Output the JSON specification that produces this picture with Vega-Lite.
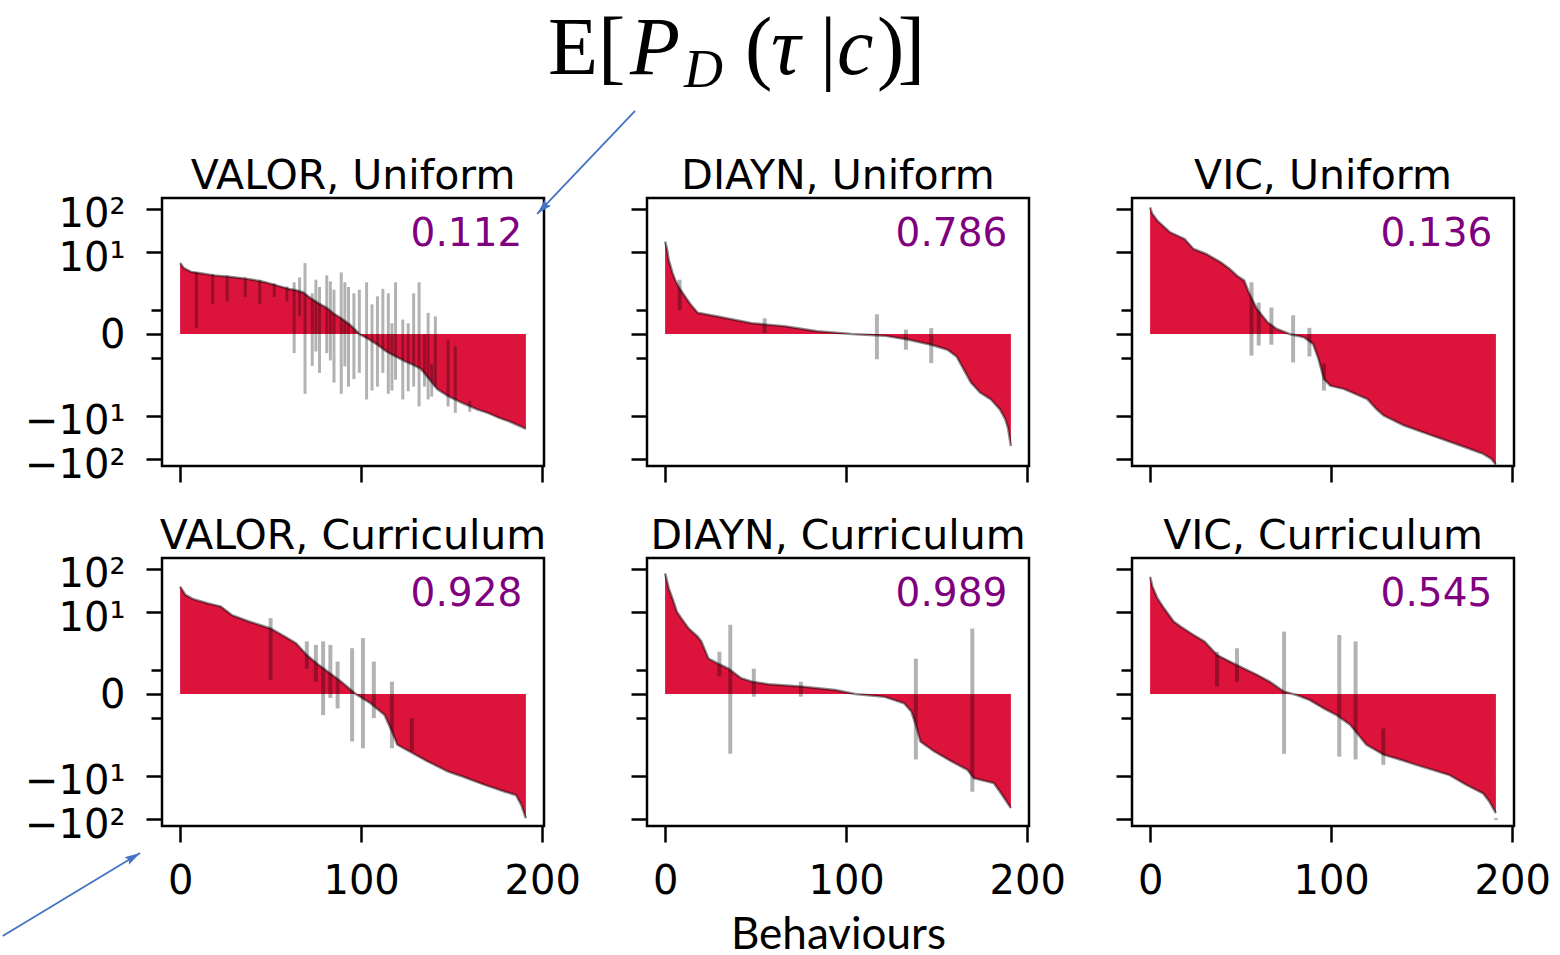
{
"$schema": "https://vega.github.io/schema/vega-lite/v6.json",
"background": "white",
"padding": {"left": 0, "top": 6, "right": 0, "bottom": 0},
"columns": 3,
"spacing": {"row": 92, "column": 103},
"bounds": "flush",
"datasets": {
"curve": [
{"p":"VU","i":0,"v":5.5},{"p":"VU","i":2,"v":4.2},{"p":"VU","i":6,"v":3.4},{"p":"VU","i":12,"v":3.1},{"p":"VU","i":19,"v":2.8},{"p":"VU","i":27,"v":2.6},{"p":"VU","i":34,"v":2.4},{"p":"VU","i":40,"v":2.2},{"p":"VU","i":47,"v":1.9},{"p":"VU","i":54,"v":1.55},{"p":"VU","i":60,"v":1.3},{"p":"VU","i":64,"v":1.2},{"p":"VU","i":68,"v":1.05},{"p":"VU","i":72,"v":0.75},{"p":"VU","i":76,"v":0.55},{"p":"VU","i":81,"v":0.39},{"p":"VU","i":85,"v":0.25},{"p":"VU","i":89,"v":0.17},{"p":"VU","i":94,"v":0.08},{"p":"VU","i":99,"v":0},{"p":"VU","i":104,"v":-0.04},{"p":"VU","i":109,"v":-0.1},{"p":"VU","i":114,"v":-0.2},{"p":"VU","i":119,"v":-0.3},{"p":"VU","i":124,"v":-0.42},{"p":"VU","i":129,"v":-0.55},{"p":"VU","i":133,"v":-0.7},{"p":"VU","i":137,"v":-1.2},{"p":"VU","i":142,"v":-2.3},{"p":"VU","i":148,"v":-3.4},{"p":"VU","i":156,"v":-5},{"p":"VU","i":164,"v":-7},{"p":"VU","i":170,"v":-8.5},{"p":"VU","i":176,"v":-11},{"p":"VU","i":182,"v":-13.5},{"p":"VU","i":188,"v":-17.5},{"p":"VU","i":191,"v":-20},
{"p":"DU","i":0,"v":17.5},{"p":"DU","i":1,"v":12},{"p":"DU","i":2,"v":6.6},{"p":"DU","i":4,"v":3.3},{"p":"DU","i":5.5,"v":2.2},{"p":"DU","i":7.5,"v":1.45},{"p":"DU","i":11,"v":0.83},{"p":"DU","i":14,"v":0.5},{"p":"DU","i":18,"v":0.27},{"p":"DU","i":29,"v":0.2},{"p":"DU","i":48,"v":0.1},{"p":"DU","i":66,"v":0.066},{"p":"DU","i":84,"v":0.02},{"p":"DU","i":103,"v":0},{"p":"DU","i":121,"v":-0.012},{"p":"DU","i":134,"v":-0.045},{"p":"DU","i":147,"v":-0.1},{"p":"DU","i":156,"v":-0.17},{"p":"DU","i":161,"v":-0.3},{"p":"DU","i":165,"v":-0.73},{"p":"DU","i":169,"v":-1.6},{"p":"DU","i":174,"v":-2.8},{"p":"DU","i":180,"v":-4.1},{"p":"DU","i":185,"v":-7.1},{"p":"DU","i":188,"v":-12.2},{"p":"DU","i":189.5,"v":-20},{"p":"DU","i":191,"v":-50},
{"p":"IU","i":0,"v":109},{"p":"IU","i":1,"v":80},{"p":"IU","i":4,"v":53.6},{"p":"IU","i":11,"v":28.8},{"p":"IU","i":19,"v":20.2},{"p":"IU","i":24,"v":11.8},{"p":"IU","i":31,"v":9},{"p":"IU","i":39,"v":5.75},{"p":"IU","i":44,"v":4},{"p":"IU","i":48,"v":2.75},{"p":"IU","i":52,"v":2.08},{"p":"IU","i":54.5,"v":1.06},{"p":"IU","i":59,"v":0.36},{"p":"IU","i":65,"v":0.11},{"p":"IU","i":70,"v":0.04},{"p":"IU","i":77,"v":0},{"p":"IU","i":85,"v":-0.025},{"p":"IU","i":90,"v":-0.09},{"p":"IU","i":93,"v":-0.36},{"p":"IU","i":96,"v":-1.29},{"p":"IU","i":99.5,"v":-1.9},{"p":"IU","i":107,"v":-2.28},{"p":"IU","i":120,"v":-4},{"p":"IU","i":125,"v":-6.9},{"p":"IU","i":129,"v":-9.8},{"p":"IU","i":140,"v":-16.5},{"p":"IU","i":156,"v":-28.8},{"p":"IU","i":171,"v":-48},{"p":"IU","i":184,"v":-76},{"p":"IU","i":188.5,"v":-99},{"p":"IU","i":191,"v":-135},
{"p":"VC","i":0,"v":39},{"p":"VC","i":3,"v":25},{"p":"VC","i":7,"v":20.2},{"p":"VC","i":15,"v":16},{"p":"VC","i":22.5,"v":13.4},{"p":"VC","i":28.5,"v":8.5},{"p":"VC","i":38,"v":6},{"p":"VC","i":50,"v":4.1},{"p":"VC","i":58,"v":2.6},{"p":"VC","i":64,"v":1.8},{"p":"VC","i":70,"v":0.9},{"p":"VC","i":75.5,"v":0.53},{"p":"VC","i":81.5,"v":0.3},{"p":"VC","i":89,"v":0.12},{"p":"VC","i":97,"v":0},{"p":"VC","i":105,"v":-0.08},{"p":"VC","i":113,"v":-0.27},{"p":"VC","i":117,"v":-0.83},{"p":"VC","i":120,"v":-1.8},{"p":"VC","i":126.5,"v":-2.6},{"p":"VC","i":136.5,"v":-4.5},{"p":"VC","i":148,"v":-7.9},{"p":"VC","i":156,"v":-10.3},{"p":"VC","i":168,"v":-16},{"p":"VC","i":179.5,"v":-23.4},{"p":"VC","i":185.5,"v":-27.7},{"p":"VC","i":188.5,"v":-47.5},{"p":"VC","i":191,"v":-96},
{"p":"DC","i":0,"v":79},{"p":"DC","i":2,"v":35.6},{"p":"DC","i":4,"v":21},{"p":"DC","i":6.5,"v":10.2},{"p":"DC","i":9,"v":7.1},{"p":"DC","i":13,"v":4.1},{"p":"DC","i":18,"v":2.6},{"p":"DC","i":20,"v":2},{"p":"DC","i":24,"v":0.72},{"p":"DC","i":29,"v":0.53},{"p":"DC","i":35,"v":0.37},{"p":"DC","i":42,"v":0.17},{"p":"DC","i":48,"v":0.12},{"p":"DC","i":57,"v":0.088},{"p":"DC","i":75,"v":0.064},{"p":"DC","i":94,"v":0.03},{"p":"DC","i":105,"v":0},{"p":"DC","i":121,"v":-0.02},{"p":"DC","i":132,"v":-0.083},{"p":"DC","i":136,"v":-0.2},{"p":"DC","i":138.5,"v":-0.54},{"p":"DC","i":141,"v":-1.5},{"p":"DC","i":148.5,"v":-2.6},{"p":"DC","i":158,"v":-4.5},{"p":"DC","i":167,"v":-7.2},{"p":"DC","i":170.5,"v":-11.3},{"p":"DC","i":181.5,"v":-14.7},{"p":"DC","i":185,"v":-23.4},{"p":"DC","i":191,"v":-56},
{"p":"IC","i":0,"v":66},{"p":"IC","i":1.3,"v":39},{"p":"IC","i":4,"v":21},{"p":"IC","i":7.7,"v":12.2},{"p":"IC","i":13,"v":6},{"p":"IC","i":17,"v":4.5},{"p":"IC","i":24,"v":2.86},{"p":"IC","i":30,"v":2},{"p":"IC","i":37,"v":0.9},{"p":"IC","i":44,"v":0.6},{"p":"IC","i":52,"v":0.37},{"p":"IC","i":59,"v":0.23},{"p":"IC","i":66,"v":0.12},{"p":"IC","i":74,"v":0.017},{"p":"IC","i":81,"v":-0.007},{"p":"IC","i":88,"v":-0.048},{"p":"IC","i":96,"v":-0.15},{"p":"IC","i":103,"v":-0.27},{"p":"IC","i":110.5,"v":-0.54},{"p":"IC","i":119.5,"v":-1.8},{"p":"IC","i":129,"v":-3.15},{"p":"IC","i":138,"v":-4.1},{"p":"IC","i":147,"v":-5.5},{"p":"IC","i":156,"v":-7.2},{"p":"IC","i":165.5,"v":-9.6},{"p":"IC","i":174.5,"v":-16},{"p":"IC","i":184,"v":-25.5},{"p":"IC","i":187.5,"v":-40},{"p":"IC","i":191,"v":-73}
],
"err": [
{"p":"VU","i":9,"lo":0.05,"hi":3.4},{"p":"VU","i":18,"lo":0.5,"hi":3.0},{"p":"VU","i":26,"lo":0.6,"hi":2.8},{"p":"VU","i":36,"lo":0.8,"hi":2.5},{"p":"VU","i":44,"lo":0.5,"hi":2.2},{"p":"VU","i":52,"lo":0.8,"hi":1.8},{"p":"VU","i":59,"lo":0.6,"hi":1.5},{"p":"VU","i":63,"lo":-0.23,"hi":1.9},{"p":"VU","i":69,"lo":-3.0,"hi":5.5},{"p":"VU","i":73,"lo":-0.58,"hi":1.0},{"p":"VU","i":77,"lo":-0.9,"hi":1.45},{"p":"VU","i":81,"lo":-0.23,"hi":2.8},{"p":"VU","i":85,"lo":-1.6,"hi":1.24},{"p":"VU","i":89,"lo":-3.0,"hi":3.3},{"p":"VU","i":93,"lo":-2.0,"hi":1.45},{"p":"VU","i":99,"lo":-0.9,"hi":1.24},{"p":"VU","i":103,"lo":-4.1,"hi":1.9},{"p":"VU","i":109,"lo":-2.0,"hi":0.83},{"p":"VU","i":115,"lo":-3.0,"hi":1.0},{"p":"VU","i":119,"lo":-1.35,"hi":1.9},{"p":"VU","i":123,"lo":-4.1,"hi":0.15},{"p":"VU","i":129,"lo":-2.0,"hi":1.0},{"p":"VU","i":132,"lo":-6.0,"hi":1.9},{"p":"VU","i":137,"lo":-4.1,"hi":0.27},{"p":"VU","i":141,"lo":-2.0,"hi":0.2},{"p":"VU","i":148,"lo":-6.0,"hi":-0.045},{"p":"VU","i":152,"lo":-8.5,"hi":-0.12},{"p":"VU","i":160,"lo":-8,"hi":-4.5},
{"p":"VU","i":66,"lo":0.2,"hi":2.5},{"p":"VU","i":75,"lo":-0.2,"hi":2.2},{"p":"VU","i":83,"lo":-0.4,"hi":2.0},{"p":"VU","i":91,"lo":-0.6,"hi":1.9},{"p":"VU","i":96,"lo":-1.3,"hi":1.0},{"p":"VU","i":106,"lo":-2.5,"hi":0.5},{"p":"VU","i":112,"lo":-0.9,"hi":1.3},{"p":"VU","i":117,"lo":-2.5,"hi":0.1},{"p":"VU","i":126,"lo":-2.6,"hi":0.1},{"p":"VU","i":135,"lo":-2.0,"hi":0.0},{"p":"VU","i":139,"lo":-3.5,"hi":-0.5},
{"p":"DU","i":8,"lo":0.33,"hi":2.2},{"p":"DU","i":55,"lo":0.007,"hi":0.17},{"p":"DU","i":117,"lo":-0.37,"hi":0.24},{"p":"DU","i":133,"lo":-0.17,"hi":0.034},{"p":"DU","i":147,"lo":-0.48,"hi":0.048},
{"p":"IU","i":56,"lo":-0.28,"hi":1.9},{"p":"IU","i":60,"lo":-0.11,"hi":0.56},{"p":"IU","i":67,"lo":-0.1,"hi":0.4},{"p":"IU","i":79,"lo":-0.46,"hi":0.22},{"p":"IU","i":88,"lo":-0.3,"hi":0.05},{"p":"IU","i":96,"lo":-2.5,"hi":-0.5},
{"p":"VC","i":50,"lo":0.14,"hi":7.2},{"p":"VC","i":70,"lo":0.37,"hi":2.0},{"p":"VC","i":75,"lo":0.12,"hi":1.63},{"p":"VC","i":79,"lo":-0.27,"hi":2.0},{"p":"VC","i":83,"lo":-0.03,"hi":1.63},{"p":"VC","i":87,"lo":-0.15,"hi":0.6},{"p":"VC","i":95,"lo":-1.5,"hi":1.35},{"p":"VC","i":101,"lo":-2.2,"hi":2.4},{"p":"VC","i":107,"lo":-0.34,"hi":0.6},{"p":"VC","i":117,"lo":-2.2,"hi":0.12},{"p":"VC","i":128,"lo":-2.6,"hi":-0.34},
{"p":"DC","i":30,"lo":0.2,"hi":1.1},{"p":"DC","i":36,"lo":-3.0,"hi":5.0},{"p":"DC","i":49,"lo":-0.02,"hi":0.37},{"p":"DC","i":75,"lo":-0.02,"hi":0.12},{"p":"DC","i":138.5,"lo":-4.1,"hi":0.72},{"p":"DC","i":169.7,"lo":-23.4,"hi":4.1},
{"p":"IC","i":37,"lo":0.064,"hi":1.1},{"p":"IC","i":48,"lo":0.12,"hi":1.35},{"p":"IC","i":74,"lo":-3.0,"hi":3.45},{"p":"IC","i":104.5,"lo":-3.5,"hi":2.86},{"p":"IC","i":113.5,"lo":-4.1,"hi":2.0},{"p":"IC","i":128.8,"lo":-5.5,"hi":-0.68},{"p":"IC","i":191,"lo":-105,"hi":-95}
],
"scores": [
{"p":"VU","t":"VALOR, Uniform","s":"0.112"},{"p":"DU","t":"DIAYN, Uniform","s":"0.786"},{"p":"IU","t":"VIC, Uniform","s":"0.136"},{"p":"VC","t":"VALOR, Curriculum","s":"0.928"},{"p":"DC","t":"DIAYN, Curriculum","s":"0.989"},{"p":"IC","t":"VIC, Curriculum","s":"0.545"}
],
"one": [{}]
},
"concat": [
{
"width": 382, "height": 268,
"layer": [
{"data":{"name":"curve"},"transform":[{"filter":"datum.p==='VU'"}],"mark":{"type":"area","color":"#dc143c"},"encoding":{
"x": {"field":"i","type":"quantitative","scale":{"domain":[-10,201],"nice":false,"zero":false},"axis":{"values":[0,100,200],"labels":false,"title":null}},
"y": {"field":"v","type":"quantitative","scale":{"type":"symlog","constant":0.13,"domain":[-145,179],"nice":false,"zero":false},"axis":{"values":[-100,-10,-0.33,0,0.33,10,100],"title":null,"labelExpr":"datum.value==100?'10²':datum.value==10?'10¹':datum.value==0?'0':datum.value==-10?'−10¹':datum.value==-100?'−10²':''","tickSize":{"condition":{"test":"abs(datum.value)<1 && datum.value!=0","value":11},"value":16},"labelOffset":{"condition":{"test":"abs(datum.value)>=10","value":6},"value":2}}},
"y2":{"datum":0}}},
{"data":{"name":"curve"},"transform":[{"filter":"datum.p==='VU'"}],"mark":{"type":"line","color":"black","opacity":0.45,"strokeWidth":2.5},"encoding":{"x":{"field":"i","type":"quantitative"},"y":{"field":"v","type":"quantitative"}}},
{"data":{"name":"err"},"transform":[{"filter":"datum.p==='VU'"}],"mark":{"type":"rule","color":"black","opacity":0.3,"strokeWidth":3},"encoding":{"x":{"field":"i","type":"quantitative"},"y":{"field":"lo","type":"quantitative"},"y2":{"field":"hi"}}},
{"data":{"name":"scores"},"transform":[{"filter":"datum.p==='VU'"}],"mark":{"type":"text","align":"right","baseline":"alphabetic","color":"purple","fontSize":39,"font":"DejaVu Sans"},"encoding":{"x":{"datum":189},"y":{"datum":14},"text":{"field":"s"}}},
{"data":{"name":"scores"},"transform":[{"filter":"datum.p==='VU'"}],"mark":{"type":"text","align":"center","baseline":"alphabetic","color":"black","fontSize":41,"font":"DejaVu Sans"},"encoding":{"x":{"datum":95.5},"y":{"datum":289},"text":{"field":"t"}}},
{"data":{"name":"one"},"mark":{"type":"rule","color":"#4472c4","strokeWidth":1.8},"encoding":{"x":{"datum":251.3},"y":{"datum":18300},"x2":{"datum":197.2},"y2":{"datum":76.6}}},
{"data":{"name":"one"},"mark":{"type":"point","shape":"M0,0L-0.5,1.8L0,1.5L0.5,1.8Z","filled":true,"opacity":1,"color":"#4472c4","size":300,"angle":224},"encoding":{"x":{"datum":197.2},"y":{"datum":76.6}}}
]
},
{
"width": 382, "height": 268,
"layer": [
{"data":{"name":"curve"},"transform":[{"filter":"datum.p==='DU'"}],"mark":{"type":"area","color":"#dc143c"},"encoding":{
"x": {"field":"i","type":"quantitative","scale":{"domain":[-10,201],"nice":false,"zero":false},"axis":{"values":[0,100,200],"labels":false,"title":null}},
"y": {"field":"v","type":"quantitative","scale":{"type":"symlog","constant":0.13,"domain":[-145,179],"nice":false,"zero":false},"axis":{"values":[-100,-10,-0.33,0,0.33,10,100],"title":null,"labels":false,"tickSize":{"condition":{"test":"abs(datum.value)<1 && datum.value!=0","value":11},"value":16}}},
"y2":{"datum":0}}},
{"data":{"name":"curve"},"transform":[{"filter":"datum.p==='DU'"}],"mark":{"type":"line","color":"black","opacity":0.45,"strokeWidth":2.5},"encoding":{"x":{"field":"i","type":"quantitative"},"y":{"field":"v","type":"quantitative"}}},
{"data":{"name":"err"},"transform":[{"filter":"datum.p==='DU'"}],"mark":{"type":"rule","color":"black","opacity":0.3,"strokeWidth":4},"encoding":{"x":{"field":"i","type":"quantitative"},"y":{"field":"lo","type":"quantitative"},"y2":{"field":"hi"}}},
{"data":{"name":"scores"},"transform":[{"filter":"datum.p==='DU'"}],"mark":{"type":"text","align":"right","baseline":"alphabetic","color":"purple","fontSize":39,"font":"DejaVu Sans"},"encoding":{"x":{"datum":189},"y":{"datum":14},"text":{"field":"s"}}},
{"data":{"name":"scores"},"transform":[{"filter":"datum.p==='DU'"}],"mark":{"type":"text","align":"center","baseline":"alphabetic","color":"black","fontSize":41,"font":"DejaVu Sans"},"encoding":{"x":{"datum":95.5},"y":{"datum":289},"text":{"field":"t"}}},
{"data":{"name":"one"},"mark":{"type":"text","text":"E[","font":"Liberation Serif","fontSize":82,"align":"left","baseline":"alphabetic","color":"black"},"encoding":{"x":{"datum":-64.7},"y":{"datum":131000}}},
{"data":{"name":"one"},"mark":{"type":"text","text":"P","font":"Liberation Serif","fontStyle":"italic","fontSize":82,"align":"left","baseline":"alphabetic","color":"black"},"encoding":{"x":{"datum":-19.4},"y":{"datum":131000}}},
{"data":{"name":"one"},"mark":{"type":"text","text":"D","font":"Liberation Serif","fontStyle":"italic","fontSize":54,"align":"left","baseline":"alphabetic","color":"black"},"encoding":{"x":{"datum":10.5},"y":{"datum":65000}}},
{"data":{"name":"one"},"mark":{"type":"text","text":"(","font":"Liberation Serif","fontSize":82,"align":"left","baseline":"alphabetic","color":"black"},"encoding":{"x":{"datum":44.1},"y":{"datum":131000}}},
{"data":{"name":"one"},"mark":{"type":"text","text":"τ","font":"Liberation Serif","fontStyle":"italic","fontSize":82,"align":"left","baseline":"alphabetic","color":"black"},"encoding":{"x":{"datum":58.5},"y":{"datum":131000}}},
{"data":{"name":"one"},"mark":{"type":"text","text":"|","font":"Liberation Serif","fontSize":82,"align":"left","baseline":"alphabetic","color":"black"},"encoding":{"x":{"datum":85.6},"y":{"datum":131000}}},
{"data":{"name":"one"},"mark":{"type":"text","text":"c","font":"Liberation Serif","fontStyle":"italic","fontSize":82,"align":"left","baseline":"alphabetic","color":"black"},"encoding":{"x":{"datum":95},"y":{"datum":131000}}},
{"data":{"name":"one"},"mark":{"type":"text","text":")","font":"Liberation Serif","fontSize":82,"align":"left","baseline":"alphabetic","color":"black"},"encoding":{"x":{"datum":117},"y":{"datum":131000}}},
{"data":{"name":"one"},"mark":{"type":"text","text":"]","font":"Liberation Serif","fontSize":82,"align":"left","baseline":"alphabetic","color":"black"},"encoding":{"x":{"datum":128.5},"y":{"datum":131000}}}
]
},
{
"width": 382, "height": 268,
"layer": [
{"data":{"name":"curve"},"transform":[{"filter":"datum.p==='IU'"}],"mark":{"type":"area","color":"#dc143c"},"encoding":{
"x": {"field":"i","type":"quantitative","scale":{"domain":[-10,201],"nice":false,"zero":false},"axis":{"values":[0,100,200],"labels":false,"title":null}},
"y": {"field":"v","type":"quantitative","scale":{"type":"symlog","constant":0.13,"domain":[-145,179],"nice":false,"zero":false},"axis":{"values":[-100,-10,-0.33,0,0.33,10,100],"title":null,"labels":false,"tickSize":{"condition":{"test":"abs(datum.value)<1 && datum.value!=0","value":11},"value":16}}},
"y2":{"datum":0}}},
{"data":{"name":"curve"},"transform":[{"filter":"datum.p==='IU'"}],"mark":{"type":"line","color":"black","opacity":0.45,"strokeWidth":2.5},"encoding":{"x":{"field":"i","type":"quantitative"},"y":{"field":"v","type":"quantitative"}}},
{"data":{"name":"err"},"transform":[{"filter":"datum.p==='IU'"}],"mark":{"type":"rule","color":"black","opacity":0.3,"strokeWidth":4},"encoding":{"x":{"field":"i","type":"quantitative"},"y":{"field":"lo","type":"quantitative"},"y2":{"field":"hi"}}},
{"data":{"name":"scores"},"transform":[{"filter":"datum.p==='IU'"}],"mark":{"type":"text","align":"right","baseline":"alphabetic","color":"purple","fontSize":39,"font":"DejaVu Sans"},"encoding":{"x":{"datum":189},"y":{"datum":14},"text":{"field":"s"}}},
{"data":{"name":"scores"},"transform":[{"filter":"datum.p==='IU'"}],"mark":{"type":"text","align":"center","baseline":"alphabetic","color":"black","fontSize":41,"font":"DejaVu Sans"},"encoding":{"x":{"datum":95.5},"y":{"datum":289},"text":{"field":"t"}}}
]
},
{
"width": 382, "height": 268,
"layer": [
{"data":{"name":"curve"},"transform":[{"filter":"datum.p==='VC'"}],"mark":{"type":"area","color":"#dc143c"},"encoding":{
"x": {"field":"i","type":"quantitative","scale":{"domain":[-10,201],"nice":false,"zero":false},"axis":{"values":[0,100,200],"title":null}},
"y": {"field":"v","type":"quantitative","scale":{"type":"symlog","constant":0.13,"domain":[-145,179],"nice":false,"zero":false},"axis":{"values":[-100,-10,-0.33,0,0.33,10,100],"title":null,"labelExpr":"datum.value==100?'10²':datum.value==10?'10¹':datum.value==0?'0':datum.value==-10?'−10¹':datum.value==-100?'−10²':''","tickSize":{"condition":{"test":"abs(datum.value)<1 && datum.value!=0","value":11},"value":16},"labelOffset":{"condition":{"test":"abs(datum.value)>=10","value":6},"value":2}}},
"y2":{"datum":0}}},
{"data":{"name":"curve"},"transform":[{"filter":"datum.p==='VC'"}],"mark":{"type":"line","color":"black","opacity":0.45,"strokeWidth":2.5},"encoding":{"x":{"field":"i","type":"quantitative"},"y":{"field":"v","type":"quantitative"}}},
{"data":{"name":"err"},"transform":[{"filter":"datum.p==='VC'"}],"mark":{"type":"rule","color":"black","opacity":0.3,"strokeWidth":4},"encoding":{"x":{"field":"i","type":"quantitative"},"y":{"field":"lo","type":"quantitative"},"y2":{"field":"hi"}}},
{"data":{"name":"scores"},"transform":[{"filter":"datum.p==='VC'"}],"mark":{"type":"text","align":"right","baseline":"alphabetic","color":"purple","fontSize":39,"font":"DejaVu Sans"},"encoding":{"x":{"datum":189},"y":{"datum":14},"text":{"field":"s"}}},
{"data":{"name":"scores"},"transform":[{"filter":"datum.p==='VC'"}],"mark":{"type":"text","align":"center","baseline":"alphabetic","color":"black","fontSize":41,"font":"DejaVu Sans"},"encoding":{"x":{"datum":95.5},"y":{"datum":289},"text":{"field":"t"}}},
{"data":{"name":"one"},"mark":{"type":"rule","color":"#4472c4","strokeWidth":1.8},"encoding":{"x":{"datum":-98},"y":{"datum":-50200},"x2":{"datum":-22.1},"y2":{"datum":-610}}},
{"data":{"name":"one"},"mark":{"type":"point","shape":"M0,0L-0.5,1.8L0,1.5L0.5,1.8Z","filled":true,"opacity":1,"color":"#4472c4","size":300,"angle":59},"encoding":{"x":{"datum":-22.1},"y":{"datum":-610}}}
]
},
{
"width": 382, "height": 268,
"layer": [
{"data":{"name":"curve"},"transform":[{"filter":"datum.p==='DC'"}],"mark":{"type":"area","color":"#dc143c"},"encoding":{
"x": {"field":"i","type":"quantitative","scale":{"domain":[-10,201],"nice":false,"zero":false},"axis":{"values":[0,100,200],"title":"Behaviours","titleFont":"Lato","titleFontSize":44,"titleFontWeight":"normal","titleColor":"black","titlePadding":12}},
"y": {"field":"v","type":"quantitative","scale":{"type":"symlog","constant":0.13,"domain":[-145,179],"nice":false,"zero":false},"axis":{"values":[-100,-10,-0.33,0,0.33,10,100],"title":null,"labels":false,"tickSize":{"condition":{"test":"abs(datum.value)<1 && datum.value!=0","value":11},"value":16}}},
"y2":{"datum":0}}},
{"data":{"name":"curve"},"transform":[{"filter":"datum.p==='DC'"}],"mark":{"type":"line","color":"black","opacity":0.45,"strokeWidth":2.5},"encoding":{"x":{"field":"i","type":"quantitative"},"y":{"field":"v","type":"quantitative"}}},
{"data":{"name":"err"},"transform":[{"filter":"datum.p==='DC'"}],"mark":{"type":"rule","color":"black","opacity":0.3,"strokeWidth":4},"encoding":{"x":{"field":"i","type":"quantitative"},"y":{"field":"lo","type":"quantitative"},"y2":{"field":"hi"}}},
{"data":{"name":"scores"},"transform":[{"filter":"datum.p==='DC'"}],"mark":{"type":"text","align":"right","baseline":"alphabetic","color":"purple","fontSize":39,"font":"DejaVu Sans"},"encoding":{"x":{"datum":189},"y":{"datum":14},"text":{"field":"s"}}},
{"data":{"name":"scores"},"transform":[{"filter":"datum.p==='DC'"}],"mark":{"type":"text","align":"center","baseline":"alphabetic","color":"black","fontSize":41,"font":"DejaVu Sans"},"encoding":{"x":{"datum":95.5},"y":{"datum":289},"text":{"field":"t"}}}
]
},
{
"width": 382, "height": 268,
"layer": [
{"data":{"name":"curve"},"transform":[{"filter":"datum.p==='IC'"}],"mark":{"type":"area","color":"#dc143c"},"encoding":{
"x": {"field":"i","type":"quantitative","scale":{"domain":[-10,201],"nice":false,"zero":false},"axis":{"values":[0,100,200],"title":null}},
"y": {"field":"v","type":"quantitative","scale":{"type":"symlog","constant":0.13,"domain":[-145,179],"nice":false,"zero":false},"axis":{"values":[-100,-10,-0.33,0,0.33,10,100],"title":null,"labels":false,"tickSize":{"condition":{"test":"abs(datum.value)<1 && datum.value!=0","value":11},"value":16}}},
"y2":{"datum":0}}},
{"data":{"name":"curve"},"transform":[{"filter":"datum.p==='IC'"}],"mark":{"type":"line","color":"black","opacity":0.45,"strokeWidth":2.5},"encoding":{"x":{"field":"i","type":"quantitative"},"y":{"field":"v","type":"quantitative"}}},
{"data":{"name":"err"},"transform":[{"filter":"datum.p==='IC'"}],"mark":{"type":"rule","color":"black","opacity":0.3,"strokeWidth":4},"encoding":{"x":{"field":"i","type":"quantitative"},"y":{"field":"lo","type":"quantitative"},"y2":{"field":"hi"}}},
{"data":{"name":"scores"},"transform":[{"filter":"datum.p==='IC'"}],"mark":{"type":"text","align":"right","baseline":"alphabetic","color":"purple","fontSize":39,"font":"DejaVu Sans"},"encoding":{"x":{"datum":189},"y":{"datum":14},"text":{"field":"s"}}},
{"data":{"name":"scores"},"transform":[{"filter":"datum.p==='IC'"}],"mark":{"type":"text","align":"center","baseline":"alphabetic","color":"black","fontSize":41,"font":"DejaVu Sans"},"encoding":{"x":{"datum":95.5},"y":{"datum":289},"text":{"field":"t"}}}
]
}
],
"config": {
"font": "DejaVu Sans",
"view": {"stroke": "black", "strokeWidth": 2.5, "fill": "white"},
"axis": {"domain": false, "grid": false, "tickColor": "black", "tickWidth": 2.5, "tickSize": 16, "labelColor": "black", "labelFont": "DejaVu Sans", "labelFontSize": 40},
"axisY": {"labelPadding": 21},
"axisX": {"labelPadding": 19}
}
}
